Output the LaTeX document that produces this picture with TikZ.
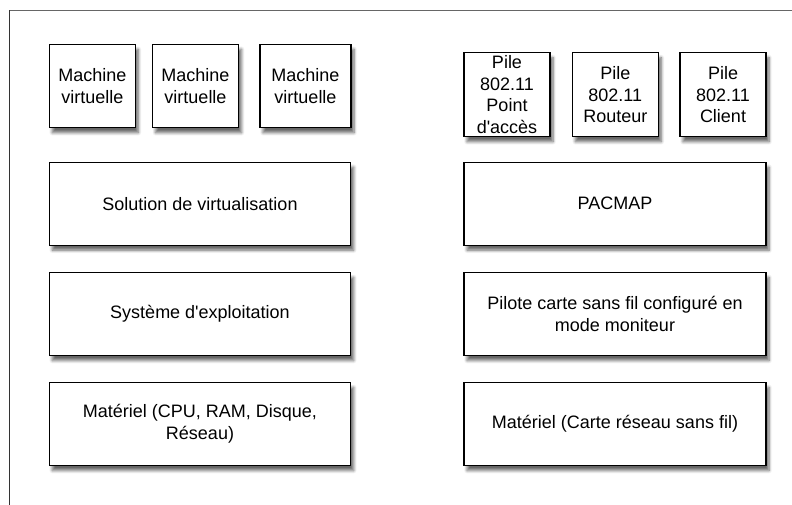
\documentclass[tikz,border=0pt]{standalone}
\usepackage{fontspec}
\setmainfont{Liberation Sans}[Ligatures=TeXOff]
\usetikzlibrary{shadows.blur}
\begin{document}
\begin{tikzpicture}[x=1pt,y=-1pt,
  layer/.style={draw=black, line width=1.3pt, fill=white, inner sep=0pt,
    align=center, font=\fontsize{18}{21.7}\selectfont,
    blur shadow={shadow xshift=3pt, shadow yshift=-5pt, shadow blur steps=6, shadow opacity=60, shadow blur radius=3pt}},
  frameline/.style={draw=black!60, line width=1pt}]
\useasboundingbox (0,0) rectangle (792,505);
% frame
\coordinate (ftl) at (9.5,10.5);
\coordinate (ftr) at (792,10.5);
\coordinate (fbl) at (9.5,505);
\draw[frameline] (ftr) -- (ftl);
\draw[draw=black!80, line width=1pt] (ftl) -- (fbl);
% left column
\node[layer, minimum width=86pt, minimum height=83.4pt] (vm1) at (92.3,86) {Machine\\virtuelle};
\node[layer, minimum width=86pt, minimum height=83.4pt] (vm2) at (195.5,86) {Machine\\virtuelle};
\node[layer, minimum width=91pt, minimum height=83.4pt] (vm3) at (305.5,86) {Machine\\virtuelle};
\node[layer, minimum width=301.5pt, minimum height=83pt] (virt) at (200,203.7) {Solution de virtualisation};
\node[layer, minimum width=301.5pt, minimum height=83pt] (os) at (200,314) {Système d'exploitation};
\node[layer, minimum width=301.5pt, minimum height=83pt] (hw) at (200,424) {Matériel (CPU, RAM, Disque,\\Réseau)};
% right column
\node[layer, minimum width=86pt, minimum height=84pt] (ap) at (507,94.7) {Pile\\802.11\\Point\\d'accès};
\node[layer, minimum width=86pt, minimum height=84pt] (rt) at (615.3,94.7) {Pile\\802.11\\Routeur};
\node[layer, minimum width=86pt, minimum height=84pt] (cl) at (723,94.7) {Pile\\802.11\\Client};
\node[layer, minimum width=302pt, minimum height=83pt] (pac) at (615,203.7) {PACMAP};
\node[layer, minimum width=302pt, minimum height=83pt] (drv) at (615,314) {Pilote carte sans fil configuré en\\mode moniteur};
\node[layer, minimum width=302pt, minimum height=83pt] (card) at (615,424) {Matériel (Carte réseau sans fil)};
\end{tikzpicture}
\end{document}
